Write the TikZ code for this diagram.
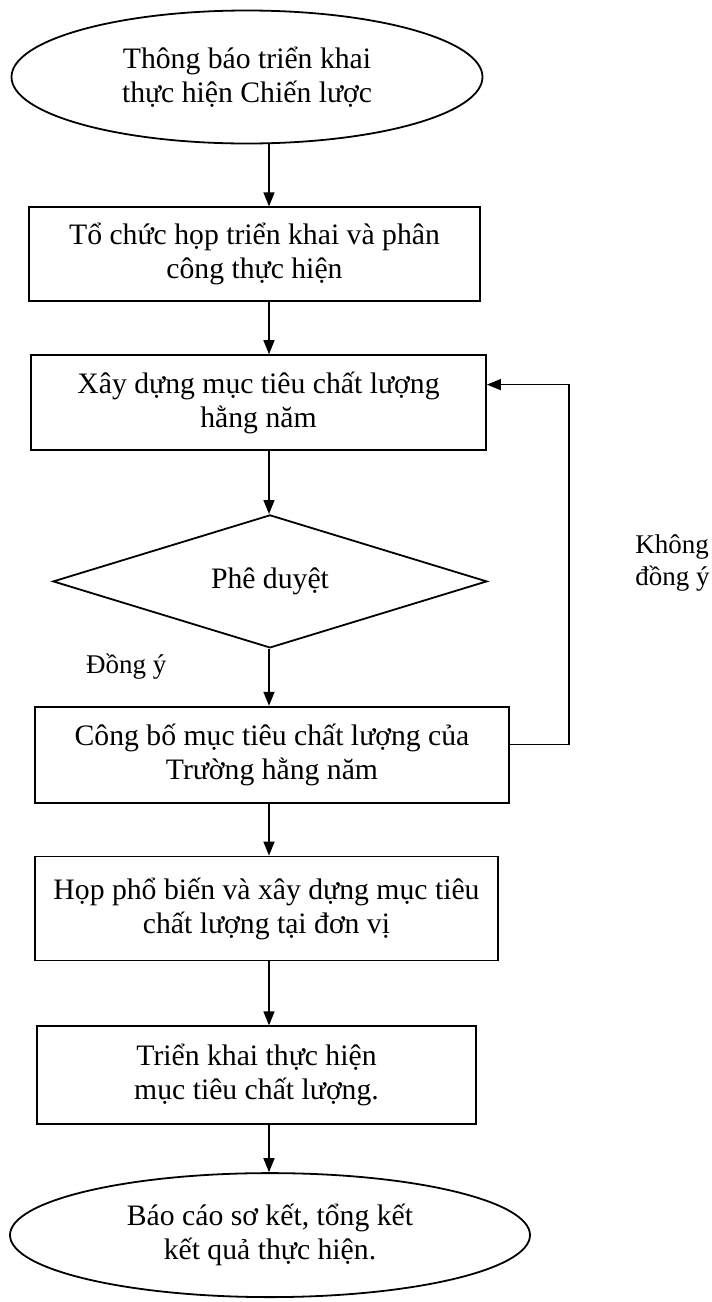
\documentclass[tikz,border=0pt]{standalone}
\usepackage{fontspec}
\setmainfont{Liberation Serif}
\usepackage{tikz}
\usetikzlibrary{arrows.meta, positioning, shapes.geometric}
\tikzset{%
	term/.style={draw, ellipse, inner sep=0mm, align=center, line width=0.9pt},
	proc/.style={draw, rectangle, inner sep=0mm, align=center, line width=0.9pt},
	check/.style={draw, diamond, aspect=3.26, inner sep=0mm, line width=0.9pt},
	flow/.style={-{Triangle[length=7pt, width=5.5pt]}, line width=0.7pt},
	note/.style={font=\fontsize{13.5}{16}\selectfont, align=left, inner sep=0mm}
}

\begin{document}
\begin{tikzpicture}[x=0.5pt, y=-0.5pt, font=\fontsize{14.85}{17}\selectfont]
	\useasboundingbox (0,0) rectangle (712,1302);
	\coordinate (axis) at (269,0);

	\node[term, minimum width=235.5pt, minimum height=66.5pt] (start) at (247,77) {Thông báo triển khai\\thực hiện Chiến lược};
	\node[proc, minimum width=225.5pt, minimum height=47pt, below=31pt of start, xshift=3.75pt] (plan) {Tổ chức họp triển khai và phân\\công thực hiện};
	\node[proc, minimum width=227.5pt, minimum height=47.5pt, below=26pt of plan, xshift=2pt] (build) {Xây dựng mục tiêu chất lượng\\hằng năm};
	\node[check, minimum width=217pt, minimum height=66.5pt, below=31.5pt of build, xshift=5.75pt] (approve) {Phê duyệt};
	\node[proc, minimum width=237pt, minimum height=48pt, below=28.5pt of approve, xshift=1pt] (publish) {Công bố mục tiêu chất lượng của\\Trường hằng năm};
	\node[proc, minimum width=231.5pt, minimum height=52pt, below=26pt of publish, xshift=-2.75pt] (spread) {Họp phổ biến và xây dựng mục tiêu\\chất lượng tại đơn vị};
	\node[proc, minimum width=219.5pt, minimum height=49pt, below=32pt of spread, xshift=-5pt] (apply) {Triển khai thực hiện\\mục tiêu chất lượng.};
	\node[term, minimum width=260pt, minimum height=62pt, below=23.5pt of apply, xshift=6.75pt] (report) {Báo cáo sơ kết, tổng kết\\kết quả thực hiện.};
	\node[note, right=73.5pt of approve, yshift=9pt] (reject) {Không\\đồng ý};

	\draw[flow] (start.south -| axis) -- (plan.north -| axis);
	\draw[flow] (plan.south -| axis) -- (build.north -| axis);
	\draw[flow] (build.south -| axis) -- (approve.north -| axis);
	\draw[flow] (approve.south -| axis) -- node[note, pos=0.32, left=51pt] {Đồng ý} (publish.north -| axis);
	\draw[flow] (publish.south -| axis) -- (spread.north -| axis);
	\draw[flow] (spread.south -| axis) -- (apply.north -| axis);
	\draw[flow] (apply.south -| axis) -- (report.north -| axis);
	\draw[flow] ([yshift=5pt]publish.east) -- ++(29.5pt,0) |- ([yshift=9pt]build.east);
\end{tikzpicture}
\end{document}
